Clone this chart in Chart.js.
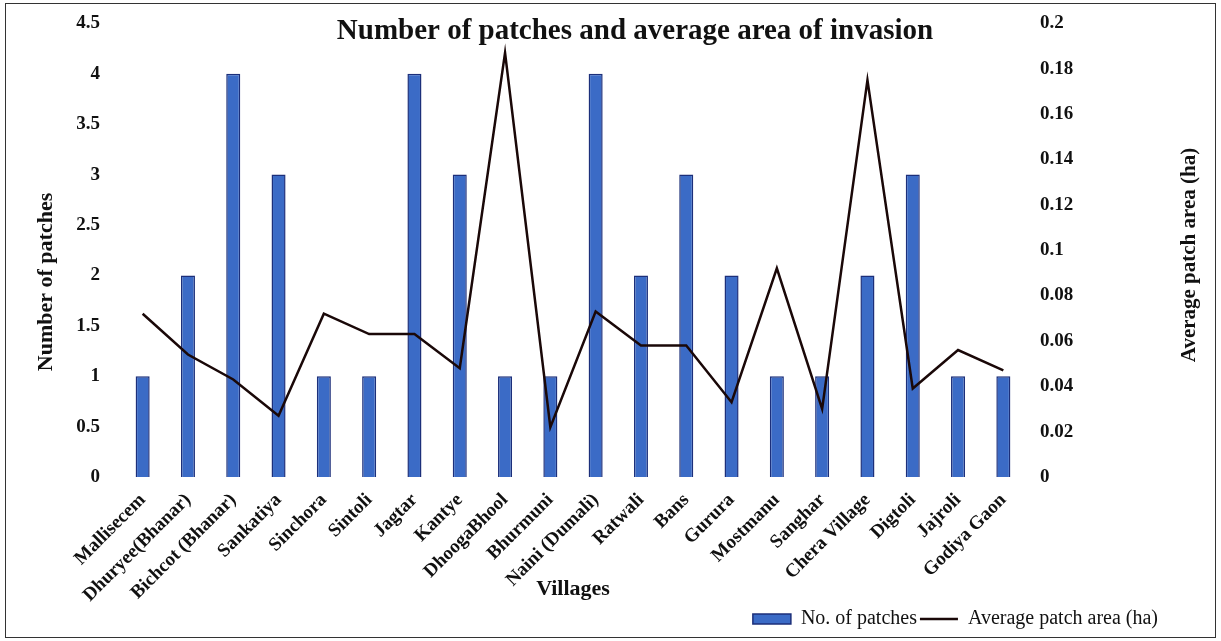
<!DOCTYPE html>
<html>
<head>
<meta charset="utf-8">
<script src="https://cdn.jsdelivr.net/npm/chart.js"></script>
<style>
  body { margin: 0; background: #fff; }
  #wrap { position: relative; width: 1221px; height: 641px; }
  #frame { position: absolute; left: 5px; top: 3px; width: 1209px; height: 633px; border: 1px solid #333; pointer-events: none; }
</style>
</head>
<body>
<div id="wrap">
  <canvas id="combo" width="1221" height="641"></canvas>
  <div id="frame"></div>
</div>
<script>
// villages on the x axis
let villages = ['Mallisecem','Dhuryee(Bhanar)','Bichcot (Bhanar)','Sankatiya','Sinchora','Sintoli','Jagtar','Kantye','DhoogaBhool','Bhurmuni','Naini (Dumali)','Ratwali','Bans','Gurura','Mostmanu','Sanghar','Chera Village','Digtoli','Jajroli','Godiya Gaon'];
let patches = [1,2,4,3,1,1,4,3,1,1,4,2,3,2,1,1,2,3,1,1];
let avgArea = [0.072,0.054,0.043,0.027,0.072,0.063,0.063,0.048,0.187,0.022,0.073,0.058,0.058,0.033,0.092,0.030,0.175,0.039,0.056,0.047];
let chartTitle = 'Number of patches and average area of invasion';
let leftTitle = 'Number of patches';
let rightTitle = 'Average patch area (ha)';

let serif = '"Liberation Serif", "Times New Roman", serif';

// title sits inside the plot area and the axis titles are placed by hand
let textPlugin = {
    id: 'extraText',
    afterDraw(chart) {
        let c = chart.ctx;
        c.save();
        c.fillStyle = '#111';
        c.textAlign = 'center';
        c.textBaseline = 'middle';
        c.font = 'bold 29px ' + serif;
        c.fillText(chartTitle, 635, 32);

        c.save();
        c.translate(46, 282);
        c.rotate(-Math.PI / 2);
        c.font = 'bold 22px ' + serif;
        c.fillText(leftTitle, 0, 0);
        c.restore();

        c.translate(1190, 255);
        c.rotate(-Math.PI / 2);
        c.font = 'bold 21px ' + serif;
        c.fillText(rightTitle, 0, 0);
        c.restore();
    }
};

function trimTick(v) { return String(+v.toFixed(2)); }

let ctx = document.getElementById('combo').getContext('2d');
let myChart = new Chart(ctx, {
    type: 'bar',
    data: {
        labels: villages,
        datasets: [{
            type: 'line',
            label: 'Average patch area (ha)',
            data: avgArea,
            yAxisID: 'y2',
            borderColor: '#1a0808',
            backgroundColor: '#6b1a1a',
            borderWidth: 2.5,
            pointRadius: 0,
            pointStyle: 'line',
            tension: 0,
            order: 0
        }, {
            label: 'No. of patches',
            data: patches,
            yAxisID: 'y',
            backgroundColor: '#3b6bc6',
            borderColor: '#1c2f7a',
            borderWidth: 1.5,
            barPercentage: 0.62,
            categoryPercentage: 0.5,
            pointStyle: 'rect',
            order: 1
        }]
    },
    options: {
        responsive: false,
        animation: false,
        layout: { padding: { top: 0, right: 60, left: 28, bottom: 2 } },
        plugins: {
            title: { display: false },
            tooltip: { enabled: false },
            legend: {
                position: 'bottom',
                align: 'end',
                reverse: true,
                labels: {
                    usePointStyle: true,
                    pointStyleWidth: 38,
                    boxHeight: 10,
                    padding: 3,
                    color: '#111',
                    font: { family: serif, size: 20 }
                }
            }
        },
        scales: {
            x: {
                grid: { display: false },
                border: { display: false },
                ticks: {
                    minRotation: 45,
                    maxRotation: 45,
                    autoSkip: false,
                    padding: 4,
                    color: '#111',
                    font: { family: serif, size: 19, weight: 'bold' }
                },
                title: {
                    display: true,
                    text: 'Villages',
                    color: '#111',
                    padding: { top: 0, bottom: 3 },
                    font: { family: serif, size: 22, weight: 'bold' }
                },
                afterFit(scale) { scale.height = 129; }
            },
            y: {
                position: 'left',
                min: 0,
                max: 4.5,
                grid: { display: false },
                border: { display: false },
                ticks: {
                    stepSize: 0.5,
                    padding: 12,
                    color: '#111',
                    callback: trimTick,
                    font: { family: serif, size: 19, weight: 'bold' }
                },
                afterFit(scale) { scale.width = 92; }
            },
            y2: {
                position: 'right',
                min: 0,
                max: 0.2,
                grid: { display: false },
                border: { display: false },
                ticks: {
                    stepSize: 0.02,
                    padding: 6,
                    color: '#111',
                    callback: trimTick,
                    font: { family: serif, size: 19, weight: 'bold' }
                },
                afterFit(scale) { scale.width = 135; }
            }
        }
    },
    plugins: [textPlugin]
});
</script>
</body>
</html>
